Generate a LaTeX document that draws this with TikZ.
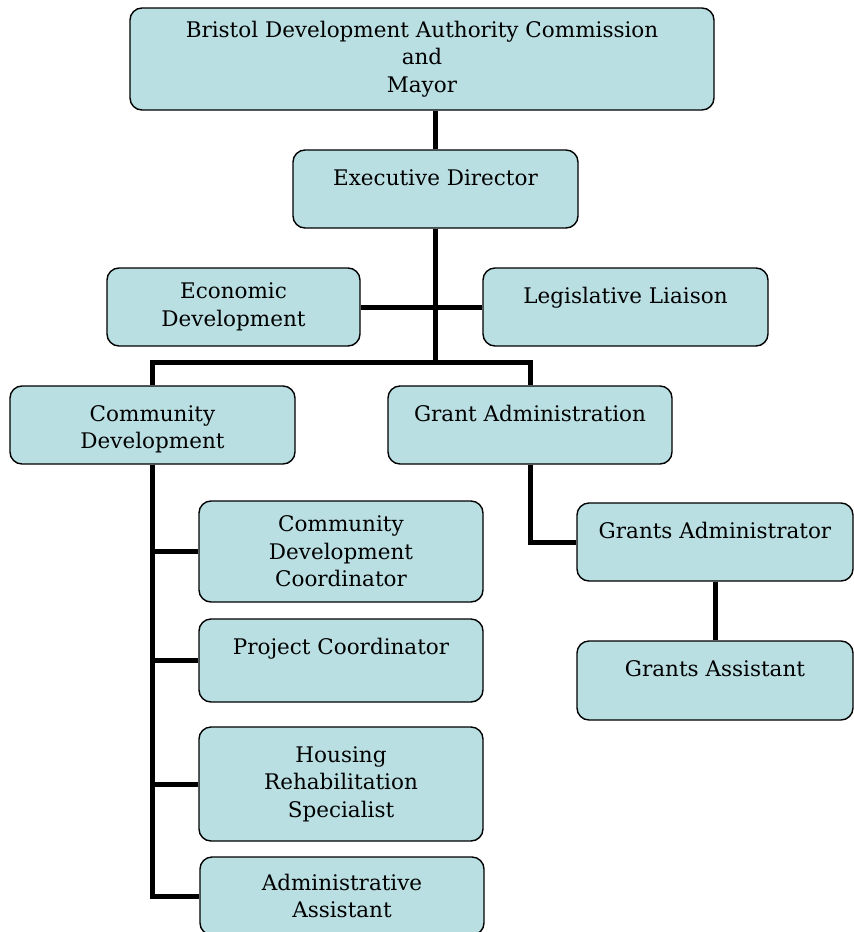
\documentclass[tikz,border=0pt]{standalone}
\usepackage{fontspec}
\setmainfont{DejaVu Serif}
\usetikzlibrary{backgrounds}
\definecolor{boxfill}{RGB}{185,223,227}
\tikzset{
    org-box/.style = {draw=black, fill=boxfill, line width=1.4pt, rectangle, rounded corners=12pt, inner sep=0pt},
    org-line/.style = {draw=black, line width=5pt},
}
\newcommand{\midcell}[3]{\parbox[c][#2][c]{#1}{\centering #3}}
\newcommand{\topcell}[3]{\parbox[c][#2][t]{#1}{\centering\rule{0pt}{35pt}#3}}

\begin{document}
\begin{tikzpicture}[x=1pt, y=-1pt, font=\fontsize{21.5}{27.5}\selectfont]
\useasboundingbox (0,0) rectangle (854,932);

\node[org-box] (board) at (422,59) {\midcell{584pt}{102pt}{Bristol Development Authority Commission\\ and\\ Mayor}};
\node[org-box] (exec) at (435.5,189) {\topcell{285pt}{78pt}{Executive Director}};
\node[org-box] (econ) at (233.5,307) {\midcell{253pt}{78pt}{Economic\\ Development}};
\node[org-box] (legis) at (625.5,307) {\topcell{285pt}{78pt}{Legislative Liaison}};
\node[org-box] (comdev) at (152.5,425) {\topcell{285pt}{78pt}{Community\\ Development}};
\node[org-box] (grantadm) at (530,425) {\topcell{284pt}{78pt}{Grant Administration}};
\node[org-box] (cdcoord) at (341,551.5) {\midcell{284pt}{101pt}{Community\\ Development\\ Coordinator}};
\node[org-box] (projcoord) at (341,660.5) {\topcell{284pt}{83pt}{Project Coordinator}};
\node[org-box] (housing) at (341,784) {\midcell{284pt}{114pt}{Housing\\ Rehabilitation\\ Specialist}};
\node[org-box] (adminasst) at (342,896) {\midcell{284pt}{78pt}{Administrative\\ Assistant}};
\node[org-box] (grantsadm) at (715,542) {\topcell{276pt}{78pt}{Grants Administrator}};
\node[org-box] (grantsasst) at (715,680.5) {\topcell{276pt}{79pt}{Grants Assistant}};
\coordinate (hub) at (435.5,362);

\begin{scope}[on background layer]
\draw[org-line] (exec.north) -- (exec.north |- board.south);
\draw[org-line] (exec.south) -- (hub);
\draw[org-line] (econ.east) -- (legis.west);
\draw[org-line] (comdev.north) |- (hub) -| (grantadm.north);
\foreach \n in {cdcoord,projcoord,housing,adminasst}
    \draw[org-line] (comdev.south) |- (\n.west);
\draw[org-line] (grantadm.south) |- (grantsadm.west);
\draw[org-line] (grantsadm.south) -- (grantsasst.north);
\end{scope}
\end{tikzpicture}
\end{document}
